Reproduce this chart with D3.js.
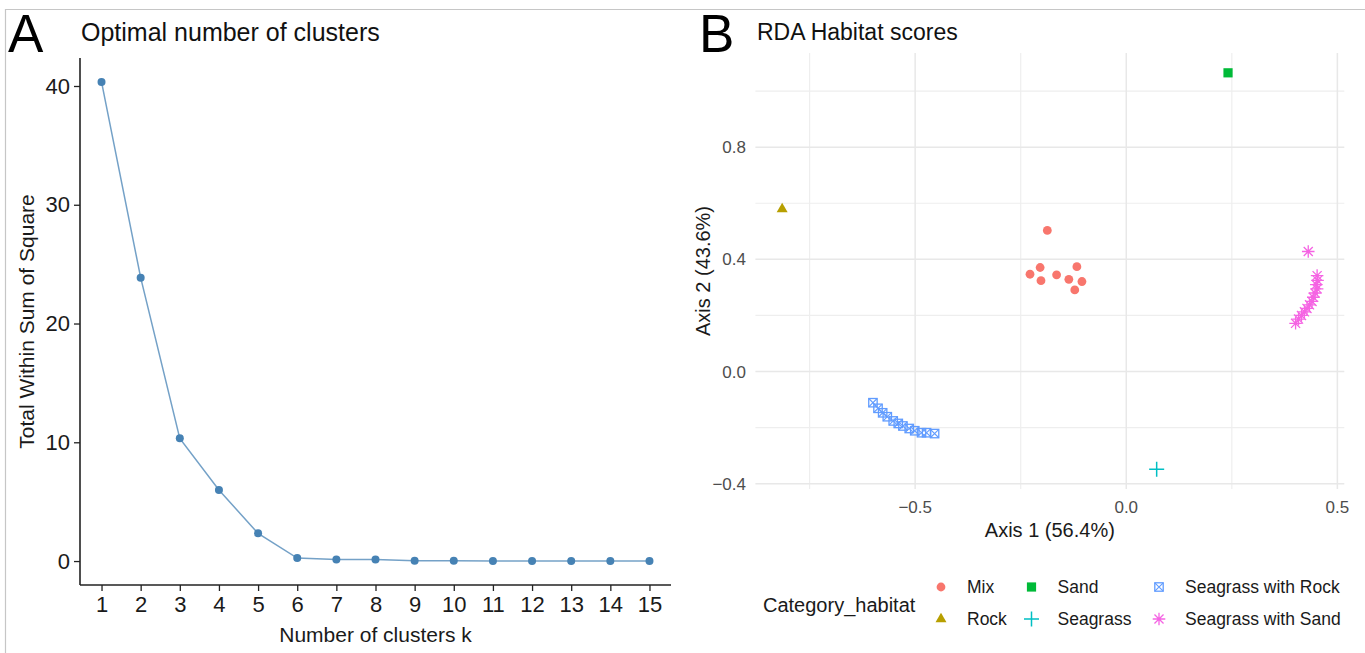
<!DOCTYPE html>
<html>
<head>
<meta charset="utf-8">
<script src="https://cdn.jsdelivr.net/npm/d3@7"></script>
<style>
  html, body { margin: 0; padding: 0; background: #fff; }
  svg { display: block; font-family: "Liberation Sans", Arial, sans-serif; }
</style>
</head>
<body>
<svg id="chart" width="1365" height="653"></svg>
<script>
// ---- Panel A: elbow curve (total within-cluster sum of squares) ----
const kValues = [1, 2, 3, 4, 5, 6, 7, 8, 9, 10, 11, 12, 13, 14, 15];
const wssValues = [40.34, 23.86, 10.33, 5.98, 2.33, 0.25, 0.14, 0.13, 0.02, 0.02, 0.01, 0.01, 0.0, 0.0, 0.0];
const wssTicks = [0, 10, 20, 30, 40];

// ---- Panel B: RDA habitat scores ----
const habitatCategories = ["Mix", "Rock", "Sand", "Seagrass", "Seagrass with Rock", "Seagrass with Sand"];
const habitatColors = ["#F8766D", "#B79F00", "#00BA38", "#00BFC4", "#619CFF", "#F564E3"];
const mixScores = [[-0.187, 0.503], [-0.204, 0.371], [-0.228, 0.347], [-0.202, 0.324], [-0.165, 0.345],
                   [-0.136, 0.329], [-0.117, 0.374], [-0.105, 0.321], [-0.122, 0.291]];
const rockScores = [[-0.815, 0.579]];
const sandScores = [[0.241, 1.065]];
const seagrassScores = [[0.072, -0.348]];
const seagrassRockScores = [[-0.600, -0.111], [-0.588, -0.131], [-0.577, -0.147], [-0.566, -0.161],
                            [-0.552, -0.176], [-0.540, -0.185], [-0.529, -0.194], [-0.514, -0.203],
                            [-0.501, -0.211], [-0.485, -0.218], [-0.473, -0.218], [-0.454, -0.221]];
const seagrassSandScores = [[0.431, 0.428], [0.452, 0.342], [0.453, 0.325], [0.450, 0.310], [0.452, 0.295],
                            [0.447, 0.280], [0.443, 0.265], [0.440, 0.250], [0.434, 0.238], [0.428, 0.225],
                            [0.422, 0.213], [0.415, 0.200], [0.408, 0.187], [0.401, 0.172]];
const axis1MajorTicks = [-0.5, 0.0, 0.5];
const axis1MinorTicks = [-0.75, -0.25, 0.25];
const axis2MajorTicks = [-0.4, 0.0, 0.4, 0.8];
const axis2MinorTicks = [-0.2, 0.2, 0.6, 1.0];

const svg = d3.select("#chart");

// outer frame
svg.append("line").attr("x1", 5).attr("x2", 1365).attr("y1", 9.5).attr("y2", 9.5)
  .attr("stroke", "#c6c6c6").attr("stroke-width", 1.2);
svg.append("line").attr("x1", 5.5).attr("x2", 5.5).attr("y1", 9).attr("y2", 653)
  .attr("stroke", "#c6c6c6").attr("stroke-width", 1.2);

// panel letters
svg.append("text").attr("x", 8).attr("y", 52).text("A")
  .style("font-size", "53px").attr("fill", "#000");
svg.append("text").attr("x", 699).attr("y", 52).text("B")
  .style("font-size", "53px").attr("fill", "#000");

// ================= Panel A =================
const aLeft = 80, aRight = 671, aTop = 58, aBottom = 585;
const xA = d3.scalePoint().domain(kValues).range([aLeft, aRight]).padding(0.55);
const wssExt = d3.extent(wssValues);
const wssPad = (wssExt[1] - wssExt[0]) * 0.05;
const yA = d3.scaleLinear().domain([wssExt[0] - wssPad, wssExt[1] + wssPad]).range([aBottom, aTop]);

svg.append("text").attr("x", 81).attr("y", 41).text("Optimal number of clusters")
  .style("font-size", "25px").attr("fill", "#111");

const gA = svg.append("g");
const yAxisA = gA.append("g").attr("transform", `translate(${aLeft},0)`)
  .call(d3.axisLeft(yA).tickValues(wssTicks).tickSize(6).tickPadding(4).tickFormat(d3.format("d")));
const xAxisA = gA.append("g").attr("transform", `translate(0,${aBottom})`)
  .call(d3.axisBottom(xA).tickSize(6).tickPadding(5));
[yAxisA, xAxisA].forEach(ax => {
  ax.select(".domain").attr("stroke", "#222").attr("stroke-width", 1.6);
  ax.selectAll(".tick line").attr("stroke", "#222").attr("stroke-width", 1.3);
  ax.selectAll(".tick text").attr("fill", "#1a1a1a").style("font-size", "22px").style("font-family", "'Liberation Sans', Arial, sans-serif");
});
// x axis line extends from y axis
xAxisA.select(".domain").attr("d", `M${aLeft},0H${aRight}`);
yAxisA.select(".domain").attr("d", `M0,${aTop}V${aBottom}`);

svg.append("text").attr("x", (aLeft + aRight) / 2).attr("y", 642).attr("text-anchor", "middle")
  .text("Number of clusters k").style("font-size", "21px").attr("fill", "#1a1a1a");
svg.append("text").attr("transform", `translate(34,${(aTop + aBottom) / 2}) rotate(-90)`)
  .attr("text-anchor", "middle").text("Total Within Sum of Square")
  .style("font-size", "21px").attr("fill", "#1a1a1a");

const elbow = kValues.map((k, i) => ({ k, v: wssValues[i] }));
gA.append("path").datum(elbow)
  .attr("d", d3.line().x(d => xA(d.k)).y(d => yA(d.v)))
  .attr("fill", "none").attr("stroke", "#4682B4").attr("stroke-opacity", 0.75).attr("stroke-width", 1.5);
gA.selectAll("circle.pt").data(elbow).join("circle").attr("class", "pt")
  .attr("cx", d => xA(d.k)).attr("cy", d => yA(d.v)).attr("r", 4).attr("fill", "#4682B4");

// ================= Panel B =================
const bLeft = 755.4, bRight = 1344.3, bTop = 53, bBottom = 489;
const groups = [mixScores, rockScores, sandScores, seagrassScores, seagrassRockScores, seagrassSandScores];
const allScores = groups.flat();
const xExt = d3.extent(allScores, d => d[0]);
const yExt = d3.extent(allScores, d => d[1]);
const xPad = (xExt[1] - xExt[0]) * 0.05, yPad = (yExt[1] - yExt[0]) * 0.05;
const xB = d3.scaleLinear().domain([xExt[0] - xPad, xExt[1] + xPad]).range([bLeft, bRight]);
const yB = d3.scaleLinear().domain([yExt[0] - yPad, yExt[1] + yPad]).range([bBottom, bTop]);

svg.append("text").attr("x", 757).attr("y", 40).text("RDA Habitat scores")
  .style("font-size", "23px").attr("fill", "#111");

const gB = svg.append("g");
// grid
gB.selectAll("line.minx").data(axis1MinorTicks).join("line")
  .attr("x1", d => xB(d)).attr("x2", d => xB(d)).attr("y1", bTop).attr("y2", bBottom)
  .attr("stroke", "#eeeeee").attr("stroke-width", 1.2);
gB.selectAll("line.miny").data(axis2MinorTicks).join("line")
  .attr("y1", d => yB(d)).attr("y2", d => yB(d)).attr("x1", bLeft).attr("x2", bRight)
  .attr("stroke", "#eeeeee").attr("stroke-width", 1.2);
gB.selectAll("line.majx").data(axis1MajorTicks).join("line")
  .attr("x1", d => xB(d)).attr("x2", d => xB(d)).attr("y1", bTop).attr("y2", bBottom)
  .attr("stroke", "#e8e8e8").attr("stroke-width", 1.5);
gB.selectAll("line.majy").data(axis2MajorTicks).join("line")
  .attr("y1", d => yB(d)).attr("y2", d => yB(d)).attr("x1", bLeft).attr("x2", bRight)
  .attr("stroke", "#e8e8e8").attr("stroke-width", 1.5);

// tick labels
gB.selectAll("text.tx").data(axis1MajorTicks).join("text")
  .attr("x", d => xB(d)).attr("y", 513).attr("text-anchor", "middle")
  .text(d3.format(".1f")).style("font-size", "17px").attr("fill", "#4d4d4d");
gB.selectAll("text.ty").data(axis2MajorTicks).join("text")
  .attr("x", 746).attr("y", d => yB(d) + 6).attr("text-anchor", "end")
  .text(d3.format(".1f")).style("font-size", "17px").attr("fill", "#4d4d4d");

svg.append("text").attr("x", (bLeft + bRight) / 2).attr("y", 537).attr("text-anchor", "middle")
  .text("Axis 1 (56.4%)").style("font-size", "20px").attr("fill", "#1a1a1a");
svg.append("text").attr("transform", `translate(710,${(bTop + bBottom) / 2}) rotate(-90)`)
  .attr("text-anchor", "middle").text("Axis 2 (43.6%)")
  .style("font-size", "20px").attr("fill", "#1a1a1a");

// point shapes, one per habitat
function drawShape(sel, idx, color) {
  const s = 4.6;
  if (idx === 0) {
    sel.append("circle").attr("r", 4.4).attr("fill", color);
  } else if (idx === 1) {
    sel.append("path").attr("d", d3.symbol(d3.symbolTriangle, 52)()).attr("fill", color);
  } else if (idx === 2) {
    sel.append("rect").attr("x", -s).attr("y", -s).attr("width", 2 * s).attr("height", 2 * s).attr("fill", color);
  } else if (idx === 3) {
    const h = 7.5;
    sel.append("path").attr("d", `M${-h},0H${h}M0,${-h}V${h}`)
      .attr("stroke", color).attr("stroke-width", 1.5).attr("fill", "none");
  } else if (idx === 4) {
    const b = 4.2;
    sel.append("rect").attr("x", -b).attr("y", -b).attr("width", 2 * b).attr("height", 2 * b)
      .attr("fill", "none").attr("stroke", color).attr("stroke-width", 1.3);
    sel.append("path").attr("d", `M${-b},${-b}L${b},${b}M${-b},${b}L${b},${-b}`)
      .attr("stroke", color).attr("stroke-width", 1.1).attr("fill", "none");
  } else {
    const r = 6.3, d = r * 0.72;
    sel.append("path").attr("d", `M${-r},0H${r}M0,${-r}V${r}M${-d},${-d}L${d},${d}M${-d},${d}L${d},${-d}`)
      .attr("stroke", color).attr("stroke-width", 1.3).attr("fill", "none");
  }
}

groups.forEach((pts, gi) => {
  gB.selectAll(`g.pts${gi}`).data(pts).join("g").attr("class", `pts${gi}`)
    .attr("transform", d => `translate(${xB(d[0])},${yB(d[1])})`)
    .each(function () { drawShape(d3.select(this), gi, habitatColors[gi]); });
});

// legend
const legend = svg.append("g");
legend.append("text").attr("x", 763).attr("y", 612).text("Category_habitat")
  .style("font-size", "20px").attr("fill", "#1a1a1a");
const keyX = [941, 1031.5, 1159];
const rowY = [587, 619];
habitatCategories.forEach((name, i) => {
  const col = Math.floor(i / 2), row = i % 2;
  const g = legend.append("g").attr("transform", `translate(${keyX[col]},${rowY[row]})`);
  drawShape(g, i, habitatColors[i]);
  legend.append("text").attr("x", keyX[col] + 26).attr("y", rowY[row] + 6)
    .text(name).style("font-size", "17.5px").attr("fill", "#1a1a1a");
});
</script>
</body>
</html>
